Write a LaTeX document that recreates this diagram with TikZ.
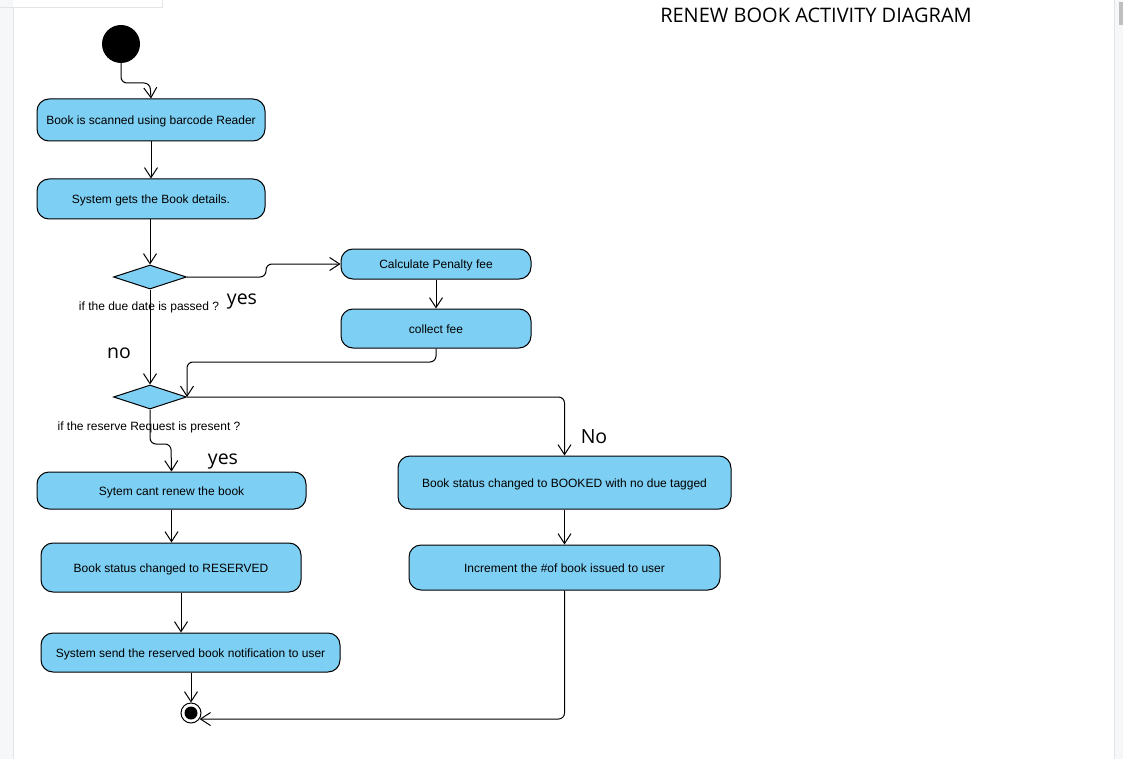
\documentclass[tikz,border=0pt]{standalone}
\usepackage{fontspec}
\setmainfont{Liberation Sans}
\newfontfamily\labelfont{Open Sans}
\usetikzlibrary{shapes.geometric,arrows.meta}
\definecolor{actblue}{RGB}{125,207,243}
\definecolor{stripgray}{RGB}{245,247,248}
\definecolor{edgegray}{RGB}{225,228,230}
\tikzset{
  act/.style={draw=black, fill=actblue, line width=1pt, rounded corners=12pt,
    inner sep=0pt, text height=10pt, text depth=1pt, font=\fontsize{12}{14}\selectfont},
  decision/.style={draw=black, fill=actblue, line width=1pt, diamond,
    inner sep=0pt, minimum width=73pt, minimum height=24pt},
  flow/.style={draw=black, line width=1pt, rounded corners=6pt,
    -{Straight Barb[length=10pt,width=13pt,line width=1pt]}},
  guard/.style={font=\fontsize{12}{14}\selectfont, inner sep=0pt},
  biglabel/.style={font=\labelfont\fontsize{19.5}{22}\selectfont, inner sep=0pt},
}
\begin{document}
\begin{tikzpicture}[x=1pt,y=-1pt]
\useasboundingbox (0,0) rectangle (1123,759);
% page frame artifacts
\fill[white] (0,0) rectangle (1123,759);
\fill[stripgray] (0,0) rectangle (13,759);
\draw[edgegray] (13,7) -- (13,759);
\draw[edgegray] (0,7) -- (162,7) -- (162,0);
\fill[stripgray] (1114,0) rectangle (1123,759);
\draw[edgegray] (1114,0) -- (1114,759);
\fill[gray!50] (1119,2) rectangle (1123,25);

% title
\node[font=\labelfont\fontsize{20}{24}\selectfont, inner sep=0pt] (title) at (816,15) {RENEW BOOK ACTIVITY DIAGRAM};

% start / end
\node[circle, fill=black, minimum size=38pt, inner sep=0pt] (start) at (121,44) {};
\node[circle, draw=black, fill=white, line width=1pt, minimum size=20pt, inner sep=0pt] (final) at (191,713) {};
\fill[black] (final.center) circle (6.5pt);

% activities
\node[act, minimum width=228pt, minimum height=42pt] (scan) at (151,120) {Book is scanned using barcode Reader};
\node[act, minimum width=228pt, minimum height=40pt] (details) at (151,199) {System gets the Book details.};
\node[decision] (due) at (150,277) {};
\node[act, minimum width=190pt, minimum height=30pt] (calc) at (436,264) {Calculate Penalty fee};
\node[act, minimum width=190pt, minimum height=39pt] (collect) at (436,328.5) {collect fee};
\node[decision] (reserve) at (150,397) {};
\node[act, minimum width=269pt, minimum height=37pt] (cant) at (171.5,490.5) {Sytem cant renew the book};
\node[act, minimum width=260pt, minimum height=49pt] (reserved) at (171,567.5) {Book status changed to RESERVED};
\node[act, minimum width=299pt, minimum height=39pt] (notify) at (190.5,652.5) {System send the reserved book notification to user};
\node[act, minimum width=333pt, minimum height=53pt] (booked) at (564.5,482.5) {Book status changed to BOOKED with no due tagged};
\node[act, minimum width=311pt, minimum height=45pt] (incr) at (564.5,567.5) {Increment the \#of book issued to user};

% labels
\node[guard] (q1) at (149,307) {if the due date is passed ?};
\node[guard] (q2) at (149,427) {if the reserve Request is present ?};
\node[biglabel] (yes1) at (242,302) {yes};
\node[biglabel] (no1) at (119,353) {no};
\node[biglabel] (yes2) at (223,462) {yes};
\node[biglabel] (no2) at (594,437) {No};

% connectors
\draw[flow] (start.south) |- (150,83) -- (scan.north);
\draw[flow] (scan.south) -- (details.north);
\draw[flow] (details.south -| due.north) -- (due.north);
\draw[flow] (due.east) -| (266,264) -- (calc.west);
\draw[flow] (calc.south) -- (collect.north);
\draw[flow] (collect.south) |- (187,362) -- (reserve.east);
\draw[flow] (due.south) -- (reserve.north);
\draw[flow] (reserve.south) |- (171,444) -- (cant.north);
\draw[flow] (reserve.east) -| (booked.north);
\draw[flow] (cant.south) -- (reserved.north -| cant.south);
\draw[flow] (reserved.south -| 181,0) -- (notify.north -| 181,0);
\draw[flow] (notify.south -| final.north) -- (final.north);
\draw[flow] (booked.south) -- (incr.north);
\draw[flow] (incr.south) |- (final.-35);
\end{tikzpicture}
\end{document}
